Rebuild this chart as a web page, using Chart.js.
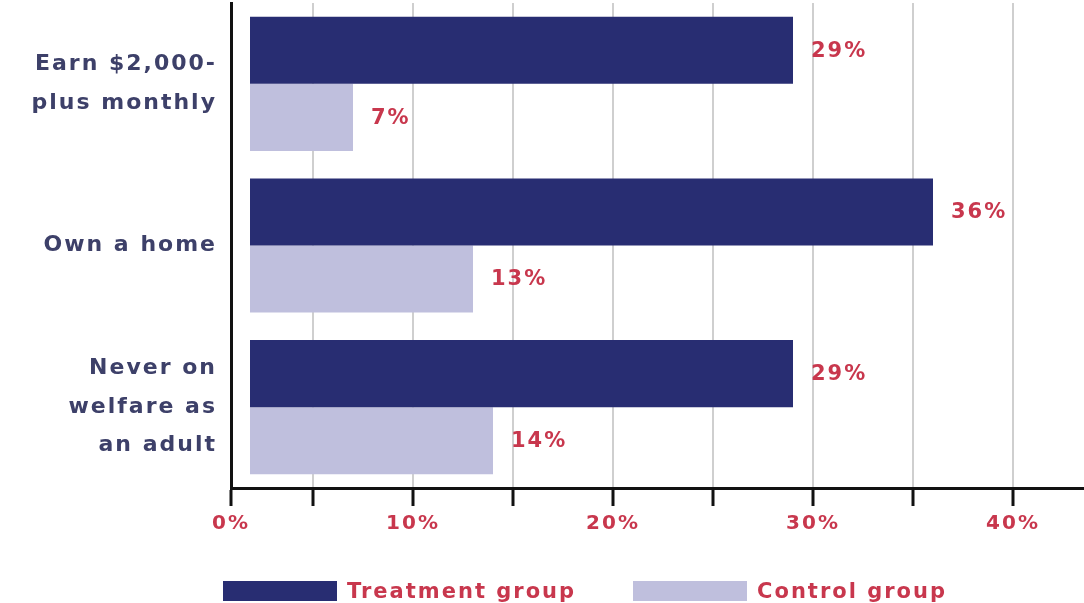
<!DOCTYPE html>
<html>
<head>
<meta charset="utf-8">
<script src="https://cdn.jsdelivr.net/npm/chart.js@4.4.1/dist/chart.umd.min.js"></script>
<style>
  html, body { margin: 0; padding: 0; background: #fff; }
  #wrap { position: relative; width: 1084px; height: 603px; }
  #legend {
    position: absolute; left: 223px; top: 581px;
    display: flex; align-items: center;
    font: bold 21px "DejaVu Sans"; letter-spacing: 2px; color: #c8374d;
    line-height: 20px;
  }
  .item { display: flex; align-items: center; margin-right: 57px; }
  .box { width: 114px; height: 20px; margin-right: 10px; }
</style>
</head>
<body>
<div id="wrap">
  <canvas id="chart" width="1084" height="603"></canvas>
  <div id="legend"></div>
</div>
<script>
// data
const categories = [['Earn $2,000-', 'plus monthly'], ['Own a home'], ['Never on', 'welfare as', 'an adult']];
const seriesNames = ['Treatment group', 'Control group'];
const treatment = [29, 36, 29];
const control = [7, 13, 14];
const xTicks = [5, 10, 15, 20, 25, 30, 35, 40];

// the drawn axis starts a little right of true zero, bars a little right of that
const xMin = 0.9;
const xMax = 43.55;
const barBase = 1.85;

const navy = '#282d72';
const lavender = '#bfbfdd';
const red = '#c8374d';
const labelColor = '#3d4069';

Chart.defaults.font.family = '"DejaVu Sans"';

// wide, spaced lettering like the original
const letterSpacing = {
    id: 'letterSpacing',
    beforeUpdate(chart) { chart.ctx.letterSpacing = '2px'; },
    beforeDraw(chart) { chart.ctx.letterSpacing = '2px'; }
};

// percent labels to the right of each bar
const valueLabels = {
    id: 'valueLabels',
    afterDatasetsDraw(chart) {
        const ctx = chart.ctx;
        ctx.save();
        ctx.font = 'bold 21px "DejaVu Sans"';
        ctx.fillStyle = red;
        ctx.textAlign = 'left';
        ctx.textBaseline = 'middle';
        chart.data.datasets.forEach((ds, i) => {
            chart.getDatasetMeta(i).data.forEach((bar, j) => {
                ctx.fillText(ds.data[j] + '%', bar.x + 18, bar.y + 1);
            });
        });
        ctx.restore();
    }
};

const data = {
    labels: categories,
    datasets: [
        { label: seriesNames[0], data: treatment, backgroundColor: navy },
        { label: seriesNames[1], data: control, backgroundColor: lavender }
    ]
};

const config = {
    type: 'bar',
    data: data,
    options: {
        indexAxis: 'y',
        responsive: false,
        animation: false,
        devicePixelRatio: 1,
        datasets: {
            bar: { barPercentage: 1, categoryPercentage: 0.83, base: barBase }
        },
        layout: { padding: { top: 3, bottom: 70, left: 0, right: 0 } },
        plugins: {
            legend: { display: false },
            tooltip: { enabled: false }
        },
        scales: {
            x: {
                type: 'linear',
                min: xMin,
                max: xMax,
                afterBuildTicks: scale => {
                    scale.ticks = [xMin].concat(xTicks).map(v => ({ value: v }));
                },
                afterFit: scale => { scale.height = 45; },
                grid: {
                    color: c => (c.tick && c.tick.value === xMin) ? 'rgba(0,0,0,0)' : '#cfcfcf',
                    lineWidth: 2,
                    tickColor: '#111',
                    tickWidth: 3,
                    tickLength: 18
                },
                border: { display: true, color: '#111', width: 3 },
                ticks: {
                    autoSkip: false,
                    maxRotation: 0,
                    padding: 6,
                    color: red,
                    font: { size: 20, weight: 'bold' },
                    callback: v => v === xMin ? '0%' : (v % 10 === 0 ? v + '%' : '')
                }
            },
            y: {
                type: 'category',
                afterFit: scale => {
                    scale.width = 231;
                    scale.paddingTop = 0;
                    scale.paddingBottom = 0;
                },
                grid: { display: false, drawTicks: false },
                border: { display: true, color: '#111', width: 3 },
                ticks: {
                    padding: 14,
                    color: labelColor,
                    font: { size: 22, weight: 'bold', lineHeight: 1.75 }
                }
            }
        }
    },
    plugins: [letterSpacing, valueLabels]
};

const ctx = document.getElementById('chart').getContext('2d');
const chart = new Chart(ctx, config);

// legend under the chart, built from the datasets
const legend = document.getElementById('legend');
data.datasets.forEach(ds => {
    const item = document.createElement('div');
    item.className = 'item';
    const box = document.createElement('span');
    box.className = 'box';
    box.style.background = ds.backgroundColor;
    const text = document.createElement('span');
    text.textContent = ds.label;
    item.appendChild(box);
    item.appendChild(text);
    legend.appendChild(item);
});
</script>
</body>
</html>
